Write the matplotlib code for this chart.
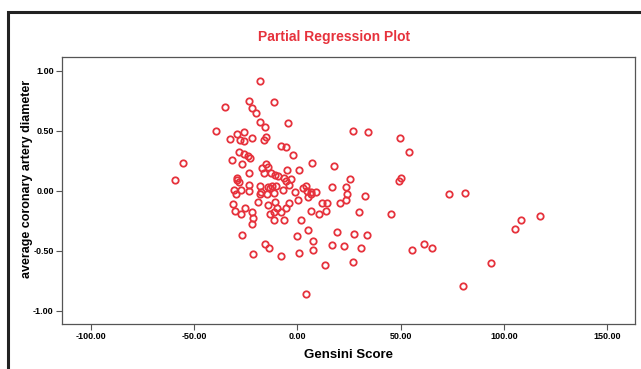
import matplotlib
matplotlib.use("Agg")
import matplotlib.pyplot as plt
from matplotlib.patches import Rectangle
from matplotlib.ticker import FormatStrFormatter

# Gensini score residuals (x) and coronary diameter residuals (y)
gensini = [27, 34.4, 49.7, 53.8, 50, 49.4, 25.5, 32.6, 73.3, 81, 30, 45.4, 108.2, 117.4, 105.3,
           27.5, 33.6, 30.7, 55.6, 61.5, 65, 27, 93.8, 80.3,
           -11.3, -7.8, -11.3, -6.6, 6.8, 10.3, 14, 1.9, 5.2, 19, -0.3, 7.6, 16.6, 22.6, -7.8,
           0.6, 7.4, 13.4, 4.2,
           -30.4, -27.5, -21.9, -21.5, -21.9, -13.4, -26.6, -15.8, -13.7, -21.3,
           -17.9, -34.9, -23.6, -21.9, -20.2, -11.5, -39.2, -17.9, -15.8, -32.5, -29.1, -26,
           -28, -26, -21.9, -16.1, -15, -4.7, -7.8, -5.7,
           -2.3, -55.2, -59.3, -31.8, -28.3, -25.8, -23.9, -22.8, -27, -23.6, -17.1, -15.4,
           -14.4, -16.1, -12.9, -10.7, -9.4, -5.2, 0.6, 6.9, 17.9, -29.4, -29.2, -28.4, -30.7,
           -29.6, -27.5, -23.4, -23.6, -17.9, -14.2, -17.4, -14.9, -13.4, -6.3, -5.3, -2.9,
           -3.9, -6.9, -1, 2.9, 4.4, 4.5, 6.8, 8.9, 5.2, 16.6, 23.4,
           -31.1, -25.5, -18.1, -12.5, -11.5, -19, -14.2, -10.7, -9.7, -4.2, 0.3, 12, 14.4,
           20.5, 24.2, 23.7, -10.2, -5.3, 6.4]
diameter = [0.50, 0.49, 0.44, 0.32, 0.11, 0.08, 0.10, -0.04, -0.03, -0.02, -0.18, -0.19, -0.24,
            -0.21, -0.32, -0.36, -0.37, -0.48, -0.49, -0.44, -0.48, -0.59, -0.60, -0.79,
            -0.18, -0.18, -0.24, -0.24, -0.17, -0.19, -0.17, -0.24, -0.33, -0.34, -0.38, -0.42,
            -0.45, -0.46, -0.54, -0.52, -0.49, -0.62, -0.86,
            -0.17, -0.19, -0.18, -0.23, -0.28, -0.19, -0.37, -0.44, -0.48, -0.53,
            0.91, 0.70, 0.75, 0.69, 0.65, 0.74, 0.50, 0.57, 0.53, 0.43, 0.47, 0.49,
            0.42, 0.41, 0.44, 0.42, 0.45, 0.56, 0.37, 0.36,
            0.30, 0.23, 0.09, 0.26, 0.32, 0.31, 0.29, 0.27, 0.22, 0.15, 0.19, 0.22,
            0.20, 0.15, 0.15, 0.13, 0.12, 0.17, 0.17, 0.23, 0.21, 0.11, 0.09, 0.075, 0.01,
            -0.025, 0.01, 0.05, 0.0, 0.04, 0.035, -0.01, -0.025, 0.025, 0.11, 0.08, 0.10,
            0.05, 0.01, -0.01, 0.025, 0.04, 0.0, -0.01, -0.01, -0.05, 0.03, 0.035,
            -0.11, -0.14, -0.03, 0.04, -0.02, -0.09, -0.12, -0.09, -0.14, -0.10, -0.075, -0.10,
            -0.10, -0.10, -0.03, -0.08, 0.036, -0.145, -0.03]

x_ticks = [-100, -50, 0, 50, 100, 150]
y_ticks = [-1.0, -0.5, 0.0, 0.5, 1.0]

red = "#e6323c"
plt.rcParams['font.family'] = ['Liberation Sans', 'DejaVu Sans']

fig = plt.figure(figsize=(6.41, 3.69), dpi=100)
ax = fig.add_axes([0.0967, 0.122, 0.894, 0.7236])

ax.plot(gensini, diameter, 'o', mfc='none', mec=red, mew=1.3, ms=4.6, linestyle='none')

ax.set_xlim(-114, 163.5)
ax.set_ylim(-1.11, 1.114)
ax.set_xticks(x_ticks)
ax.set_yticks(y_ticks)
ax.xaxis.set_major_formatter(FormatStrFormatter('%.2f'))
ax.yaxis.set_major_formatter(FormatStrFormatter('%.2f'))
ax.tick_params(length=4, width=0.8, color='#555555', labelsize=6.5, pad=2)
for lab in ax.get_xticklabels() + ax.get_yticklabels():
    lab.set_fontweight('bold')
for sp in ax.spines.values():
    sp.set_color('#555555')
    sp.set_linewidth(0.9)

fig.text(0.521, 0.90, 'Partial Regression Plot', color=red, fontsize=10,
         fontweight='bold', ha='center', va='center')
fig.text(0.543, 0.038, 'Gensini Score', fontsize=9.5, fontweight='bold',
         ha='center', va='center')
fig.text(0.042, 0.515, 'average coronary artery diameter', fontsize=9,
         fontweight='bold', ha='center', va='center', rotation=90)

# outer frame of the exported chart
fig.patches.append(Rectangle((0.0125, -0.2), 1.2, 0.2 + 0.9675, transform=fig.transFigure,
                             fill=False, edgecolor='#222222', linewidth=2.2))

fig.savefig('out.png', dpi=100)
